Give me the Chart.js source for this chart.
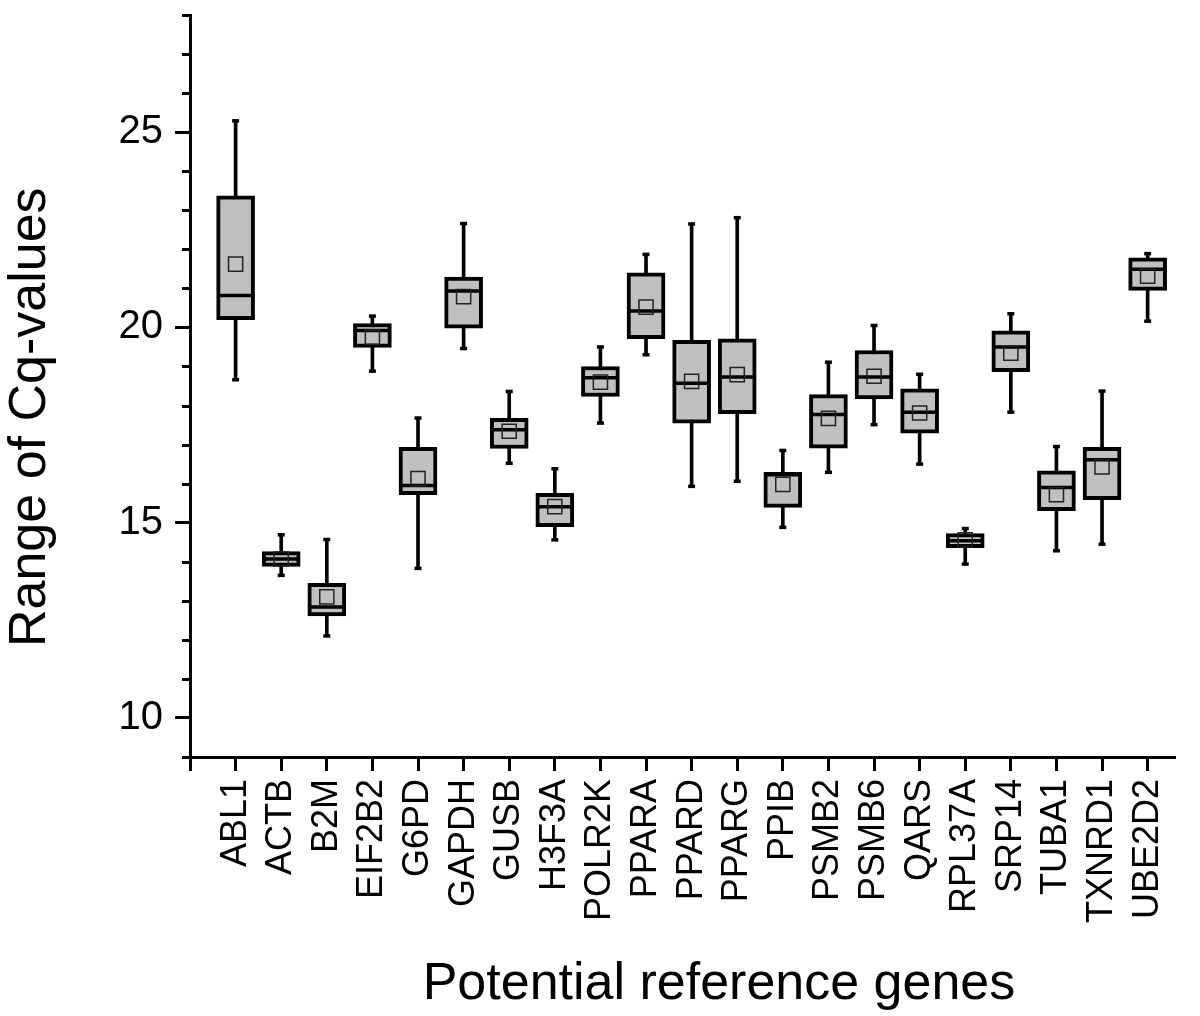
<!DOCTYPE html>
<html>
<head>
<meta charset="utf-8">
<script src="https://cdn.jsdelivr.net/npm/chart.js@4.4.1/dist/chart.umd.min.js"></script>
<style>
  html, body { margin: 0; padding: 0; background: #fff; }
  #wrap { width: 1200px; height: 1016px; position: relative; }
</style>
</head>
<body>
<div id="wrap"><canvas id="boxchart"></canvas></div>
<script>
// genes on the x axis
const genes = ['ABL1', 'ACTB', 'B2M', 'EIF2B2', 'G6PD', 'GAPDH', 'GUSB', 'H3F3A', 'POLR2K', 'PPARA',
  'PPARD', 'PPARG', 'PPIB', 'PSMB2', 'PSMB6', 'QARS', 'RPL37A', 'SRP14', 'TUBA1', 'TXNRD1', 'UBE2D2'];

// box plot stats per gene (Cq values)
const minVals    = [18.66, 13.65, 12.10, 18.88, 13.83, 19.46, 16.52, 14.56, 17.55, 19.30, 15.93, 16.06, 14.88, 16.29, 17.51, 16.50, 13.94, 17.83, 14.28, 14.45, 20.16];
const q1Vals     = [20.20, 13.88, 12.61, 19.49, 15.72, 19.98, 16.90, 14.90, 18.23, 19.71, 17.55, 17.79, 15.39, 16.91, 18.17, 17.29, 14.36, 18.87, 15.31, 15.59, 20.95];
const medianVals = [20.82, 14.07, 12.84, 19.92, 15.95, 20.93, 17.38, 15.41, 18.71, 20.42, 18.57, 18.73, 16.23, 17.77, 18.73, 17.83, 14.54, 19.50, 15.90, 16.61, 21.49];
const q3Vals     = [23.37, 14.26, 13.45, 20.10, 16.93, 21.29, 17.67, 15.75, 19.00, 21.40, 19.67, 19.71, 16.29, 18.28, 19.41, 18.43, 14.72, 19.91, 16.33, 16.93, 21.78];
const maxVals    = [25.29, 14.69, 14.57, 20.29, 17.68, 22.66, 18.36, 16.38, 19.50, 21.87, 22.65, 22.81, 16.85, 19.11, 20.05, 18.80, 14.85, 20.35, 16.95, 18.37, 21.89];
const meanVals   = [21.62, 14.07, 13.10, 19.75, 16.13, 20.79, 17.34, 15.41, 18.60, 20.52, 18.62, 18.79, 15.98, 17.67, 18.75, 17.81, 14.56, 19.34, 15.72, 16.43, 21.31];

// axis ticks
const yMajorTicks = [10, 15, 20, 25];
const yMinorTicks = [9, 11, 12, 13, 14, 16, 17, 18, 19, 21, 22, 23, 24, 26, 27, 28];

const xTitle = 'Potential reference genes';
const yTitle = 'Range of Cq-values';
const FONT = "'Liberation Sans', Arial, sans-serif";

const pos = genes.map((g, i) => i + 1);

// minor y ticks + axis titles
const extrasPlugin = {
  id: 'extras',
  afterDraw(chart) {
    const c = chart.ctx, area = chart.chartArea;
    const x = chart.scales.x, y = chart.scales.y;
    c.save();
    c.strokeStyle = '#000';
    c.lineWidth = 3;
    yMinorTicks.forEach(v => {
      const py = Math.round(y.getPixelForValue(v)) + 0.5;
      c.beginPath();
      c.moveTo(area.left - 8, py);
      c.lineTo(area.left, py);
      c.stroke();
    });
    c.fillStyle = '#000';
    c.font = '52px ' + FONT;
    c.textAlign = 'center';
    c.textBaseline = 'alphabetic';
    c.fillText(xTitle, x.getPixelForValue(11.6), chart.height - 17);
    c.translate(45, y.getPixelForValue(17.7));
    c.rotate(-Math.PI / 2);
    c.fillText(yTitle, 0, 0);
    c.restore();
  }
};

const ctx = document.getElementById('boxchart').getContext('2d');
let boxchart = new Chart(ctx, {
  type: 'bar',
  data: {
    datasets: [{
      // whisker lines
      type: 'bar',
      data: pos.map((p, i) => ({ x: p, y: [minVals[i], maxVals[i]] })),
      backgroundColor: '#000',
      borderWidth: 0,
      barThickness: 3,
      grouped: false,
      order: 5
    }, {
      // whisker caps
      type: 'scatter',
      data: pos.map((p, i) => ({ x: p, y: minVals[i] })).concat(pos.map((p, i) => ({ x: p, y: maxVals[i] }))),
      pointStyle: 'line',
      pointRadius: 3.5,
      pointBorderWidth: 3.5,
      pointBorderColor: '#000',
      order: 4
    }, {
      // boxes
      type: 'bar',
      data: pos.map((p, i) => ({ x: p, y: [q1Vals[i], q3Vals[i]] })),
      backgroundColor: '#c0c0c0',
      borderColor: '#000',
      borderWidth: 4,
      borderSkipped: false,
      barThickness: 38,
      grouped: false,
      order: 3
    }, {
      // medians
      type: 'scatter',
      data: pos.map((p, i) => ({ x: p, y: medianVals[i] })),
      pointStyle: 'line',
      pointRadius: 17,
      pointBorderWidth: 3.5,
      pointBorderColor: '#000',
      order: 2
    }, {
      // means
      type: 'scatter',
      data: pos.map((p, i) => ({ x: p, y: meanVals[i] })),
      pointStyle: 'rect',
      pointRadius: 10,
      pointBorderWidth: 1.5,
      pointBorderColor: '#222',
      pointBackgroundColor: 'rgba(0,0,0,0)',
      order: 1
    }]
  },
  options: {
    responsive: true,
    maintainAspectRatio: false,
    animation: false,
    layout: { autoPadding: false, padding: { left: 0, top: 15, right: 25, bottom: 0 } },
    plugins: {
      legend: { display: false },
      tooltip: { enabled: false }
    },
    scales: {
      x: {
        type: 'linear',
        min: 0,
        max: 21.6,
        bounds: 'data',
        offset: false,
        border: { color: '#000', width: 3 },
        grid: { offset: false, drawOnChartArea: false, color: '#000', tickColor: '#000', tickWidth: 3, tickLength: 14 },
        ticks: {
          autoSkip: false,
          maxRotation: 90,
          minRotation: 90,
          padding: 8,
          color: '#000',
          font: { family: FONT, size: 36 },
          callback: v => (v >= 1 && v <= genes.length) ? genes[v - 1] : ''
        },
        afterBuildTicks: s => { s.ticks = [0].concat(pos).map(v => ({ value: v })); },
        afterFit: s => { s.height = 259; s.paddingLeft = 0; s.paddingRight = 0; }
      },
      y: {
        type: 'linear',
        min: 9,
        max: 28,
        bounds: 'data',
        border: { color: '#000', width: 3 },
        grid: { drawOnChartArea: false, color: '#000', tickColor: '#000', tickWidth: 3, tickLength: 15 },
        ticks: {
          padding: 12,
          color: '#000',
          font: { family: FONT, size: 40 }
        },
        afterBuildTicks: s => { s.ticks = yMajorTicks.map(v => ({ value: v })); },
        afterFit: s => { s.width = 190; s.paddingTop = 0; s.paddingBottom = 0; }
      }
    }
  },
  plugins: [extrasPlugin]
});
</script>
</body>
</html>
